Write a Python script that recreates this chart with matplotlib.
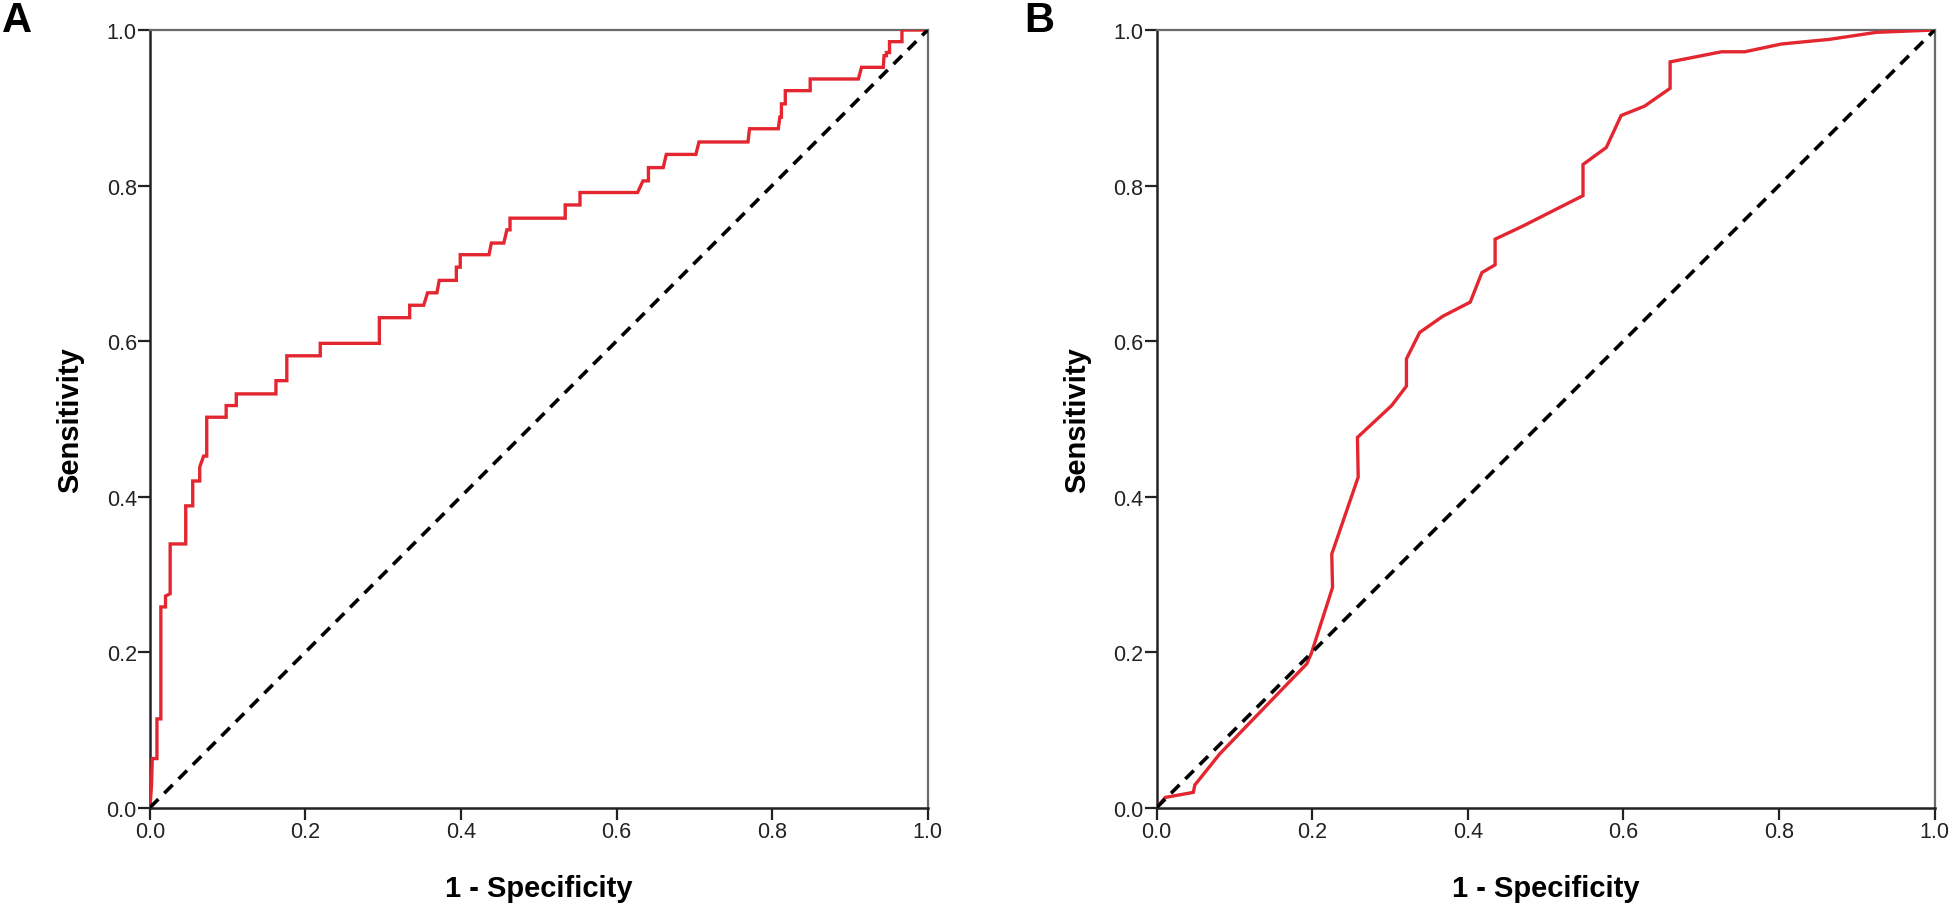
import numpy as np
import matplotlib.pyplot as plt

# ROC curve A (1 - specificity, sensitivity)
fpr_a = [0, 0.002, 0.003, 0.009, 0.009, 0.014, 0.014, 0.020, 0.020, 0.026, 0.026,
         0.046, 0.046, 0.055, 0.055, 0.064, 0.064, 0.069, 0.073, 0.073, 0.098,
         0.098, 0.111, 0.111, 0.162, 0.162, 0.176, 0.176, 0.219, 0.219, 0.295,
         0.295, 0.334, 0.334, 0.352, 0.357, 0.369, 0.372, 0.394, 0.394, 0.399,
         0.399, 0.436, 0.439, 0.455, 0.459, 0.463, 0.463, 0.534, 0.534, 0.553,
         0.553, 0.627, 0.634, 0.641, 0.641, 0.660, 0.664, 0.702, 0.706, 0.769,
         0.771, 0.808, 0.810, 0.812, 0.812, 0.817, 0.817, 0.849, 0.849, 0.911,
         0.915, 0.943, 0.944, 0.947, 0.947, 0.951, 0.951, 0.967, 0.967, 1.0]
tpr_a = [0, 0.028, 0.063, 0.063, 0.114, 0.114, 0.258, 0.258, 0.272, 0.275, 0.339,
         0.339, 0.388, 0.388, 0.420, 0.420, 0.438, 0.452, 0.452, 0.502, 0.502,
         0.517, 0.517, 0.532, 0.532, 0.549, 0.549, 0.581, 0.581, 0.597, 0.597,
         0.630, 0.630, 0.646, 0.646, 0.662, 0.662, 0.678, 0.678, 0.695, 0.695,
         0.711, 0.711, 0.726, 0.726, 0.743, 0.743, 0.758, 0.758, 0.775, 0.775,
         0.791, 0.791, 0.806, 0.806, 0.823, 0.823, 0.840, 0.840, 0.856, 0.856,
         0.873, 0.873, 0.888, 0.888, 0.905, 0.905, 0.922, 0.922, 0.937, 0.937,
         0.952, 0.952, 0.967, 0.967, 0.971, 0.971, 0.985, 0.985, 1.0, 1.0]

# ROC curve B
fpr_b = [0, 0.011, 0.047, 0.049, 0.081, 0.193, 0.199, 0.226, 0.225, 0.259, 0.258,
         0.302, 0.321, 0.321, 0.338, 0.368, 0.403, 0.418, 0.435, 0.435, 0.471,
         0.548, 0.548, 0.578, 0.597, 0.627, 0.660, 0.660, 0.726, 0.756, 0.803,
         0.865, 0.925, 1.0]
tpr_b = [0, 0.013, 0.0195, 0.029, 0.069, 0.185, 0.199, 0.283, 0.326, 0.425, 0.476,
         0.517, 0.542, 0.577, 0.611, 0.632, 0.650, 0.688, 0.698, 0.731, 0.748,
         0.787, 0.827, 0.849, 0.890, 0.902, 0.925, 0.959, 0.972, 0.972, 0.982,
         0.988, 0.997, 1.0]

ticks = [0.0, 0.2, 0.4, 0.6, 0.8, 1.0]
tick_labels = ["0.0", "0.2", "0.4", "0.6", "0.8", "1.0"]
panels = ["A", "B"]

plt.rcParams['font.family'] = ['Liberation Sans', 'DejaVu Sans']

fig = plt.figure(figsize=(19.5, 9.04), dpi=100)
ax_a = fig.add_axes([0.0769, 0.1056, 0.3988, 0.8601])
ax_b = fig.add_axes([0.5932, 0.1056, 0.3989, 0.8601])

for ax, x, y, name in [(ax_a, fpr_a, tpr_a, panels[0]), (ax_b, fpr_b, tpr_b, panels[1])]:
    ax.plot(x, y, color='#e3262f', lw=2.4, zorder=3, solid_joinstyle='miter')
    ax.plot([0, 1], [0, 1], color='black', lw=2.6, linestyle=(0, (3.3, 2.3)), zorder=4)
    ax.set_xlim(0, 1)
    ax.set_ylim(0, 1)
    ax.set_xticks(ticks)
    ax.set_xticklabels(tick_labels)
    ax.set_yticks(ticks)
    ax.set_yticklabels(tick_labels)
    ax.tick_params(direction='out', length=8.5, width=1.6, pad=1, labelsize=15.5,
                   labelcolor='#222222', color='#222222')
    for side in ['left', 'bottom']:
        ax.spines[side].set_linewidth(1.8)
        ax.spines[side].set_color('#222222')
    for side in ['top', 'right']:
        ax.spines[side].set_linewidth(1.6)
        ax.spines[side].set_color('#6a6a6a')
    ax.set_xlabel("1 - Specificity", fontsize=21, fontweight='bold', labelpad=23)
    ax.set_ylabel("Sensitivity", fontsize=21, fontweight='bold', labelpad=16)

fig.text(0.0008, 0.977, panels[0], fontsize=30, fontweight='bold', va='center', ha='left')
fig.text(0.5255, 0.977, panels[1], fontsize=30, fontweight='bold', va='center', ha='left')

fig.savefig('out.png', dpi=100)
